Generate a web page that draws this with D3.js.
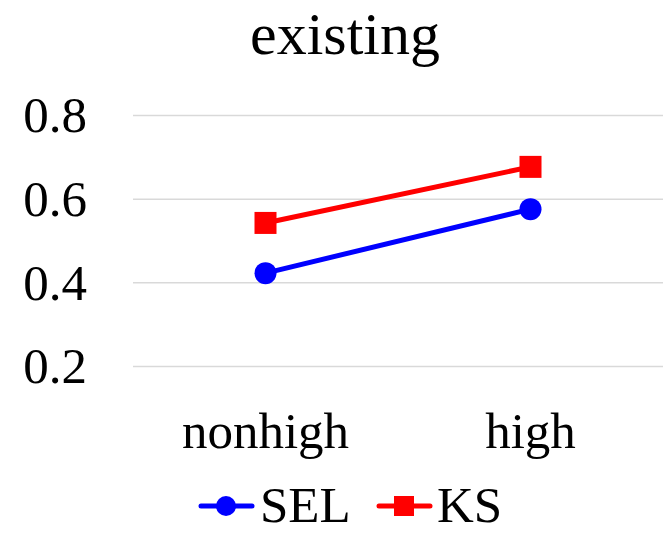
<!DOCTYPE html>
<html>
<head>
<meta charset="utf-8">
<script src="https://cdn.jsdelivr.net/npm/d3@7"></script>
<style>
  html, body { margin: 0; padding: 0; background: #fff; }
  svg { display: block; font-family: "Liberation Serif", "Times New Roman", serif; }
</style>
</head>
<body>
<svg id="chart" width="663" height="533"></svg>
<script>
// Chart data
const categories = ["nonhigh", "high"];
const selValues = [0.422, 0.575];
const ksValues = [0.542, 0.676];
const yTicks = [0.2, 0.4, 0.6, 0.8];
const seriesNames = ["SEL", "KS"];

const series = [
  { name: seriesNames[0], values: selValues, color: "#0000ff", marker: "circle" },
  { name: seriesNames[1], values: ksValues, color: "#ff0000", marker: "square" }
];

const svg = d3.select("#chart");
const plot = { left: 133, right: 663, top: 115, bottom: 366 };

const x = d3.scaleBand().domain(categories).range([plot.left, plot.right]).padding(0);
const y = d3.scaleLinear().domain([0.2, 0.8]).range([plot.bottom, plot.top]);
const cx = d => x(d) + x.bandwidth() / 2;

// Title
svg.append("text")
  .attr("x", 345).attr("y", 54)
  .attr("text-anchor", "middle")
  .attr("font-size", 60)
  .attr("fill", "#000")
  .text("existing");

// Y axis with gridlines
const yAxis = svg.append("g")
  .attr("transform", `translate(${plot.left},0)`)
  .call(d3.axisLeft(y).tickValues(yTicks).tickFormat(d3.format(".1f"))
    .tickSize(-(plot.right - plot.left)).tickPadding(46));
yAxis.select(".domain").remove();
yAxis.selectAll(".tick line").attr("stroke", "#d9d9d9").attr("stroke-width", 1.5);
yAxis.selectAll(".tick text")
  .attr("font-size", 51).attr("fill", "#000")
  .attr("font-family", "Liberation Serif, Times New Roman, serif")
  .attr("dy", "0.33em");

// X axis labels
const xAxis = svg.append("g")
  .attr("transform", `translate(0,${plot.bottom})`)
  .call(d3.axisBottom(x).tickSize(0).tickPadding(46));
xAxis.select(".domain").remove();
xAxis.selectAll(".tick text")
  .attr("font-size", 51).attr("fill", "#000")
  .attr("font-family", "Liberation Serif, Times New Roman, serif");

// Lines and markers
const line = d3.line().x(d => cx(d.cat)).y(d => y(d.v));
const markerSize = 22;

function drawMarker(g, type, color, px, py, size) {
  if (type === "circle") {
    g.append("circle").attr("cx", px).attr("cy", py).attr("r", size / 2).attr("fill", color);
  } else {
    g.append("rect").attr("x", px - size / 2).attr("y", py - size / 2)
      .attr("width", size).attr("height", size).attr("fill", color);
  }
}

series.forEach(s => {
  const pts = categories.map((c, i) => ({ cat: c, v: s.values[i] }));
  const g = svg.append("g");
  g.append("path").datum(pts)
    .attr("d", line)
    .attr("fill", "none")
    .attr("stroke", s.color)
    .attr("stroke-width", 5);
  pts.forEach(p => drawMarker(g, s.marker, s.color, cx(p.cat), y(p.v), markerSize));
});

// Legend
const legendY = 506;
const legendItems = [
  { x0: 199, textX: 260 },
  { x0: 377, textX: 437 }
];
series.forEach((s, i) => {
  const it = legendItems[i];
  const g = svg.append("g");
  g.append("line")
    .attr("x1", it.x0 + 2).attr("x2", it.x0 + 53)
    .attr("y1", legendY).attr("y2", legendY)
    .attr("stroke", s.color).attr("stroke-width", 5).attr("stroke-linecap", "round");
  drawMarker(g, s.marker, s.color, it.x0 + 27, legendY, 20);
  g.append("text")
    .attr("x", it.textX).attr("y", legendY + 16)
    .attr("font-size", 51).attr("fill", "#000")
    .text(s.name);
});
</script>
</body>
</html>
